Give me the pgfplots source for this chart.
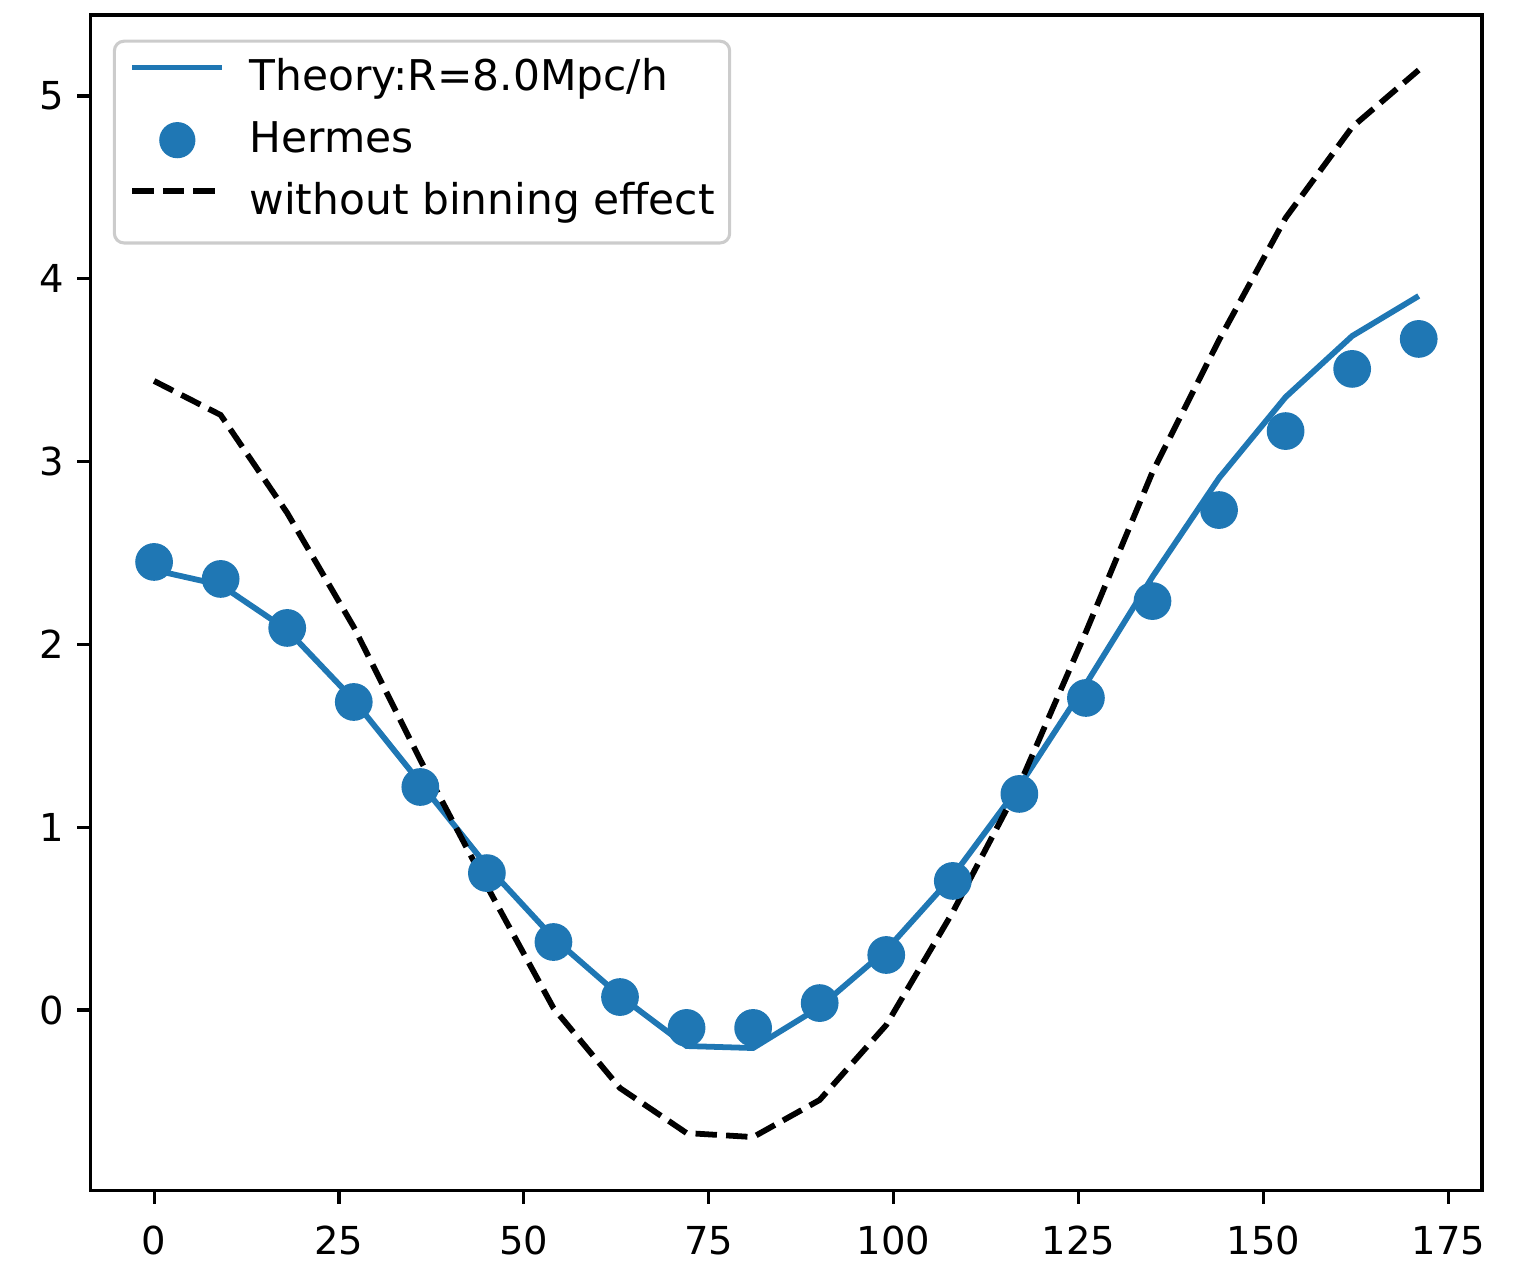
\documentclass[border=0pt]{standalone}
\usepackage{fontspec}
\setmainfont{DejaVu Sans}
\usepackage{pgfplots}
\usepackage{pgfplotstable}
\pgfplotsset{compat=1.18}
\definecolor{c0}{HTML}{1F77B4}
\definecolor{legframe}{HTML}{CCCCCC}
\pgfplotstableread{
x    hermes  theory  nobin
0    2.451   2.407   3.441
9    2.358   2.325   3.255
18   2.090   2.079   2.719
27   1.685   1.696   2.095
36   1.220   1.242   1.368
45   0.749   0.788   0.678
54   0.372   0.394   0.011
63   0.071   0.077  -0.427
72  -0.098  -0.197  -0.673
81  -0.098  -0.208  -0.695
90   0.038   0.016  -0.492
99   0.301   0.328  -0.082
108  0.706   0.733   0.536
117  1.182   1.225   1.231
126  1.707   1.783   2.068
135  2.237   2.370   2.943
144  2.735   2.910   3.665
153  3.167   3.353   4.333
162  3.507   3.687   4.830
171  3.671   3.906   5.142
}\datatable
\begin{document}
\begin{tikzpicture}
\begin{axis}[name=ax, scale only axis, width=361.3pt, height=305.2pt,
  xmin=-8.55, xmax=179.55, ymin=-0.985, ymax=5.443,
  xtick={0,25,...,175}, ytick={0,1,...,5},
  tick pos=left, tick align=outside, major tick length=3.5pt,
  every tick/.style={black, line width=0.8pt},
  axis line style={line width=0.8pt},
  /pgf/number format/assume math mode=true,
  ticklabel style={font=\fontsize{10}{12}\selectfont},
  xticklabel style={yshift=-2.3pt},
  legend cell align=left,
  legend style={at={(0.0158,0.979)}, anchor=north west,
    draw=legframe, line width=0.8pt, rounded corners=2.5pt,
    fill=white, fill opacity=0.8, text opacity=1,
    font=\fontsize{11}{13}\selectfont,
    inner xsep=3.9pt, inner ysep=4.8pt,
    row sep=5.5pt, column sep=6.3pt,
    nodes={inner sep=0pt, text height=8.1pt, text depth=2.5pt}},
]
\addplot[c0, line width=1.5pt, no marks,
  legend image code/.code={\draw[c0, line width=1.5pt] (0pt,3.3pt) -- (23.4pt,3.3pt);}]
  table[x=x, y=theory] {\datatable};
\addlegendentry{Theory:R=8.0Mpc/h}
\addplot[only marks, mark=*, mark size=4.7pt, c0, mark options={draw=c0, fill=c0},
  legend image code/.code={\path[draw=none, fill=none] (0pt,3.3pt) -- (23.4pt,3.3pt);\fill[c0, fill opacity=1, draw=none, overlay] (11.7pt,0.5pt) circle (4.7pt);}]
  table[x=x, y=hermes] {\datatable};
\addlegendentry{Hermes}
\addplot[black, line width=1.5pt, no marks, dash pattern=on 5.55pt off 2.4pt,
  legend image code/.code={\draw[black, line width=1.5pt, dash pattern=on 5.55pt off 2.4pt] (0pt,3.3pt) -- (23.4pt,3.3pt);}]
  table[x=x, y=nobin] {\datatable};
\addlegendentry{without binning effect}
\end{axis}
\pgfresetboundingbox
\path[use as bounding box] ([xshift=-23.6pt,yshift=-19pt]ax.south west) rectangle ([xshift=11.7pt,yshift=3.9pt]ax.north east);
\end{tikzpicture}
\end{document}
